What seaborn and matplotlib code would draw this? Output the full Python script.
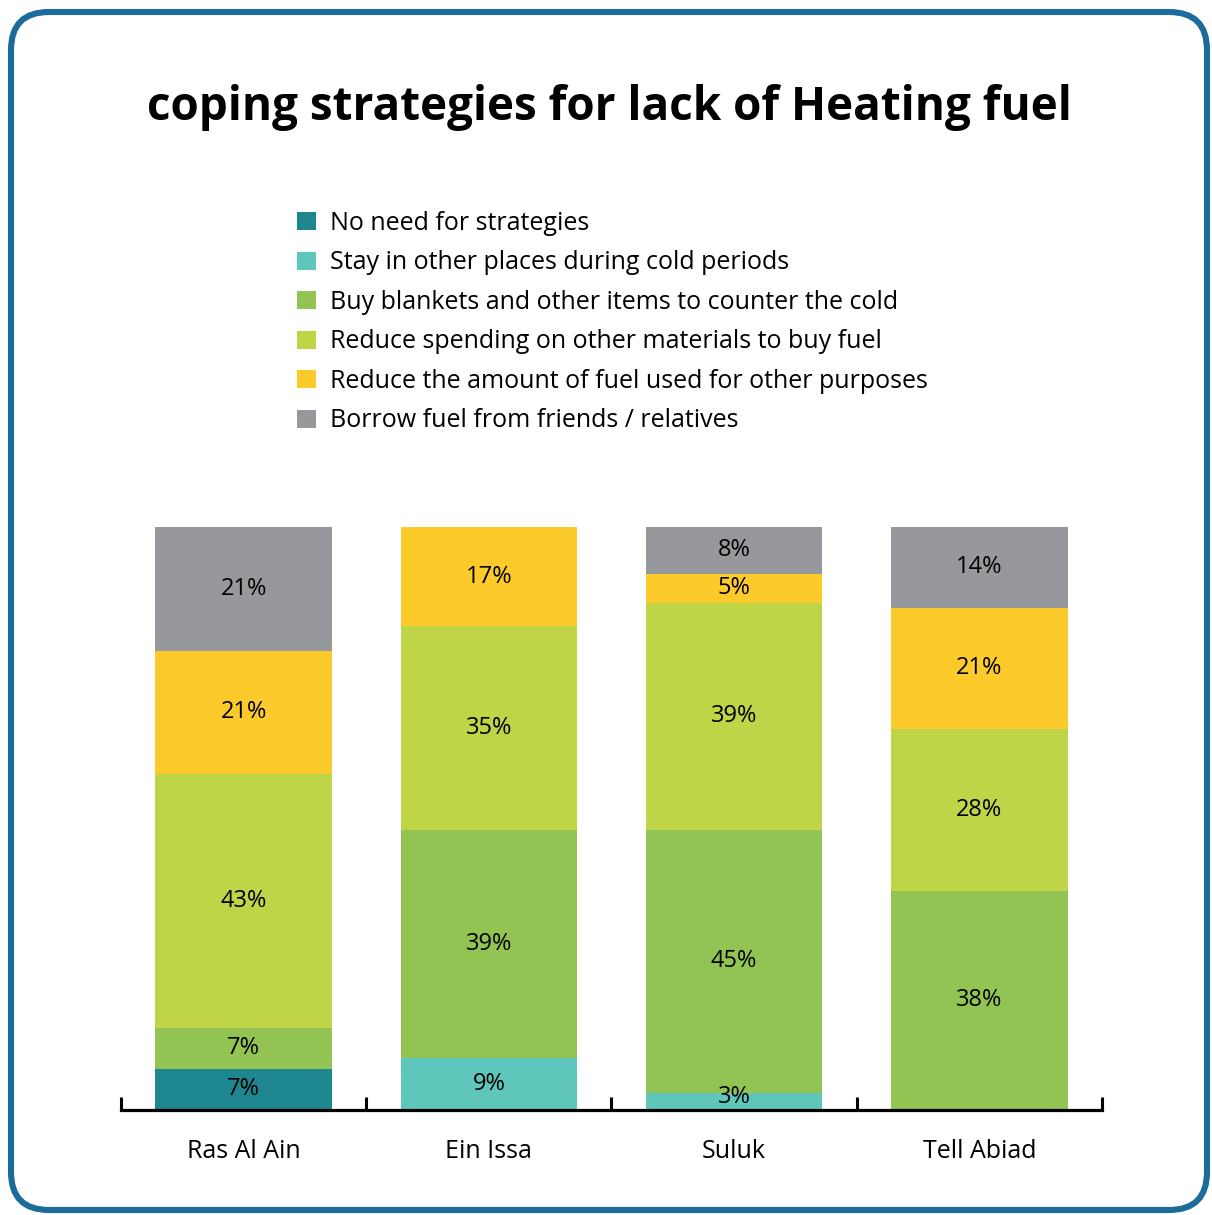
import matplotlib
matplotlib.use("Agg")
import matplotlib.pyplot as plt
from matplotlib.patches import Patch, FancyBboxPatch
import seaborn as sns
import pandas as pd
import numpy as np

# data (percent of households)
sites = ["Ras Al Ain", "Ein Issa", "Suluk", "Tell Abiad"]
strategies = [
    "No need for strategies",
    "Stay in other places during cold periods",
    "Buy blankets and other items to counter the cold",
    "Reduce spending on other materials to buy fuel",
    "Reduce the amount of fuel used for other purposes",
    "Borrow fuel from friends / relatives",
]
no_need = [7, 0, 0, 0]
stay_other = [0, 9, 3, 0]
blankets = [7, 39, 45, 38]
reduce_spending = [43, 35, 39, 28]
reduce_fuel = [21, 17, 5, 21]
borrow = [21, 0, 8, 14]

colors = ["#1e868e", "#5fc6bb", "#92c353", "#bfd447", "#fdca2c", "#97989c"]

values = np.array([no_need, stay_other, blankets, reduce_spending, reduce_fuel, borrow], dtype=float)
shares = values / values.sum(axis=0) * 100  # every bar filled to 100%
cum = shares.cumsum(axis=0)

sns.set_style("white")
plt.rcParams["font.family"] = ["Open Sans", "DejaVu Sans"]
plt.rcParams["text.color"] = "black"
plt.rcParams["xtick.color"] = "black"
plt.rcParams["xtick.labelcolor"] = "black"

fig = plt.figure(figsize=(12.12, 12.15), dpi=100)
ax = fig.add_axes([0.0998, 0.0864, 0.8094, 0.4799])

# stacked bars: draw cumulative totals from the top layer down
for k in range(len(strategies) - 1, -1, -1):
    df = pd.DataFrame({"site": sites, "cum": cum[k]})
    sns.barplot(data=df, x="site", y="cum", color=colors[k], width=0.72,
                saturation=1, ax=ax, order=sites, edgecolor="none")

for k in range(len(strategies)):
    for i in range(len(sites)):
        if values[k, i] > 0:
            mid = max(cum[k, i] - shares[k, i] / 2, 2.3)  # keep tiny labels off the axis line
            ax.text(i, mid, f"{int(values[k, i])}%", ha="center", va="center",
                    fontsize=17, color="black")

ax.set_xlim(-0.5, 3.5)
ax.set_ylim(0, 100)
ax.set_xlabel("")
ax.set_ylabel("")
ax.set_yticks([])
for s in ["top", "left", "right"]:
    ax.spines[s].set_visible(False)
ax.spines["bottom"].set_linewidth(2.3)
ax.spines["bottom"].set_color("black")
ax.set_xticks(range(len(sites)))
ax.set_xticklabels(sites, fontsize=18)
ax.tick_params(axis="x", which="major", length=0, pad=21)
ax.set_xticks(np.arange(-0.5, 4, 1), minor=True)
ax.tick_params(axis="x", which="minor", bottom=True, direction="in", length=9.5,
               width=2.2, color="black")

fig.text(0.503, 0.9115, "coping strategies for lack of Heating fuel", ha="center", va="center",
         fontsize=33, fontweight="bold", color="black")

handles = [Patch(facecolor=c, edgecolor="none") for c in colors]
fig.legend(handles, strategies, loc="upper left", bbox_to_anchor=(0.245, 0.8264),
           frameon=False, fontsize=18, handlelength=0.75, handleheight=0.75,
           handletextpad=0.56, labelspacing=0.58, borderpad=0, borderaxespad=0)

frame = FancyBboxPatch((11, 5), 1196, 1198, boxstyle="round,pad=0,rounding_size=38",
                       transform=None, facecolor="none", edgecolor="#1b6b9b", linewidth=4.4)
fig.patches.append(frame)

fig.savefig("out.png", dpi=100)
